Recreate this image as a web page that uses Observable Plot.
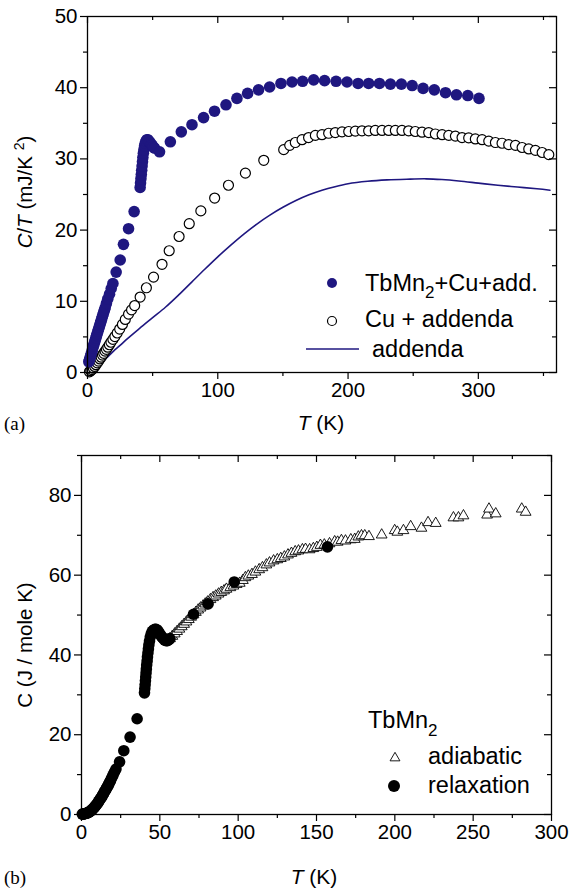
<!DOCTYPE html>
<html><head><meta charset="utf-8">
<script src="https://cdn.jsdelivr.net/npm/d3@7"></script>
<script src="https://cdn.jsdelivr.net/npm/@observablehq/plot@0.6"></script>
<style>
body{margin:0;background:#fff;}
#chart svg{display:block;}
</style></head><body><div id="chart"></div>
<script>
// ---------- Panel (a): C/T (mJ/K^2) vs T (K) ----------
const tbmnCuAdd = [[1,1.5],[1.5,1.8],[2,2.1],[2.5,2.4],[3,2.7],[3.5,3.0],[4,3.4],[4.5,3.7],[5,4.0],[5.5,4.3],[6,4.6],[6.5,4.9],[7,5.2],[7.5,5.5],[8,5.8],[8.5,6.1],[9,6.4],[9.5,6.7],[10,7.0],[10.5,7.3],[11,7.6],[11.5,7.9],[12,8.2],[12.5,8.5],[13,8.8],[13.6,9.1],[14.5,9.7],[15.5,10.3],[16.9,11.0],[18.2,11.8],[19.5,12.5],[22,14.1],[25.1,15.8],[27.6,18.0],[31.5,20.2],[35.8,22.6],[40.4,26.0],[40.7,26.6],[41,27.2],[41.3,27.8],[41.6,28.4],[41.9,29.0],[42.2,29.6],[42.5,30.2],[42.9,30.8],[43.3,31.3],[43.8,31.8],[44.3,32.2],[44.9,32.5],[45.6,32.7],[46.3,32.7],[47.2,32.5],[48,32.3],[48.8,32.1],[49.6,31.9],[50.4,31.7],[51.5,31.5],[55.3,31.0],[63.6,32.4],[72,33.8],[80.2,34.8],[89.1,35.8],[97.5,36.7],[106.3,37.6],[114.7,38.5],[122.9,39.2],[131.3,39.7],[139.8,40.1],[148.5,40.6],[157,40.8],[165.1,40.9],[173.6,41.1],[182,41.0],[190.8,40.9],[199.2,40.8],[207.7,40.6],[215.8,40.6],[224.1,40.6],[232.5,40.5],[240.9,40.5],[249.2,40.3],[257.6,39.9],[266.2,39.7],[274.8,39.3],[283.2,39.0],[291.9,38.9],[300.5,38.5]];
const cuAddenda = [[1.5,0.1],[2.5,0.25],[3.5,0.4],[4.5,0.6],[5.5,0.85],[6.5,1.1],[7.5,1.35],[8.5,1.6],[9.5,1.9],[10.5,2.15],[11.5,2.45],[12.5,2.7],[13.5,3.0],[14.5,3.25],[15.6,3.55],[16.8,3.9],[18,4.25],[19.5,4.65],[21,5.05],[22.8,5.55],[24.7,6.1],[26.8,6.75],[29,7.45],[31.5,8.2],[33.8,8.8],[36.2,9.4],[40.4,10.6],[45.2,11.9],[50.7,13.4],[57.2,15.2],[62.7,17.1],[70.3,19.1],[78.1,20.9],[87,22.7],[97.6,24.5],[108.2,26.3],[121.2,28.0],[135.3,29.8],[150.6,31.3],[155.2,31.9],[159.5,32.3],[164.7,32.7],[169.7,33.0],[174.9,33.3],[180,33.4],[185.1,33.6],[190.2,33.7],[195.4,33.8],[200.5,33.85],[205.6,33.9],[210.7,33.95],[215.8,33.95],[220.9,34.0],[226.1,34.0],[231.2,34.0],[236.3,34.0],[241.4,34.0],[246.5,33.95],[251.6,33.85],[256.8,33.75],[261.9,33.7],[267,33.5],[272.2,33.4],[277.3,33.3],[282.4,33.2],[287.5,33.0],[292.6,32.95],[297.7,32.8],[302.9,32.7],[308,32.5],[313.1,32.3],[318.2,32.2],[323.3,32.0],[328.5,31.9],[333.6,31.6],[338.7,31.4],[343.8,31.2],[349,30.9],[354.1,30.6]];
const addenda = [[3,0],[6,0.5],[10,1.2],[15,2.1],[20,3.0],[25,3.8],[30,4.65],[40,6.2],[50,7.7],[60,9.2],[70,10.9],[80,12.7],[90,14.5],[100,16.25],[110,17.9],[120,19.45],[130,20.85],[140,22.1],[150,23.2],[160,24.15],[170,24.95],[180,25.6],[190,26.1],[200,26.5],[215,26.85],[230,27.05],[245,27.15],[260,27.2],[272,27.1],[285,26.9],[300,26.6],[315,26.3],[330,26.05],[345,25.8],[355,25.6]];
const aXMajor = [0,100,200,300];
const aXMinor = [50,150,250,350];
const aYMajor = [0,10,20,30,40,50];
const aYMinor = [5,15,25,35,45];

// ---------- Panel (b): C (J / mole K) vs T (K) ----------
const relaxation = [[0.5,0.1],[1,0.1],[1.5,0.15],[2,0.2],[2.5,0.25],[3,0.3],[3.5,0.35],[4,0.45],[4.5,0.55],[5,0.65],[5.5,0.8],[6,0.95],[6.5,1.1],[7,1.3],[7.5,1.5],[8,1.7],[8.5,1.95],[9,2.2],[9.5,2.45],[10,2.7],[10.5,3.0],[11,3.3],[11.5,3.6],[12,3.9],[12.5,4.2],[13,4.5],[13.5,4.85],[14,5.2],[14.5,5.55],[15,5.9],[15.5,6.25],[16,6.6],[16.5,6.95],[17,7.3],[17.5,7.7],[18,8.1],[18.5,8.5],[19.2,9.1],[20,9.8],[21,10.6],[22,11.4],[24.3,13.2],[27,16.0],[31,19.4],[35.5,24.0],[40.2,30.5],[40.4,31.5],[40.6,32.5],[40.8,33.5],[41,34.5],[41.2,35.5],[41.4,36.5],[41.6,37.5],[41.9,38.5],[42.1,39.5],[42.4,40.5],[42.7,41.5],[43,42.5],[43.4,43.5],[43.9,44.5],[44.5,45.3],[45.2,45.9],[46,46.2],[46.8,46.4],[47.6,46.4],[48.4,46.2],[49.2,45.8],[50,45.3],[50.8,44.8],[51.6,44.4],[52.4,44.0],[53.2,43.7],[54,43.6],[54.8,43.6],[55.6,43.8],[56.4,44.1],[71.5,50.2],[80.8,52.8],[97.5,58.3],[157,67.1]];
const adiabatic = [[55,43.7],[56.5,44.1],[58,44.7],[59.5,45.3],[61,45.9],[62.5,46.5],[64,47.1],[65.5,47.7],[67,48.3],[68.5,48.9],[70,49.5],[71.5,50.1],[73,50.7],[74.5,51.3],[76,51.8],[77.6,52.3],[79,52.8],[80.5,53.3],[82.3,53.9],[84,54.4],[85.7,54.8],[87.5,55.3],[89.2,55.7],[91,56.1],[92.5,56.5],[95,56.9],[97,57.3],[99,57.7],[101,58.0],[103,58.7],[104.6,59.4],[106.5,59.8],[108.8,60.2],[111,60.8],[113.4,61.4],[115.5,61.9],[118,62.6],[120,63.1],[122.6,63.6],[125,63.9],[127.2,64.2],[129.5,64.6],[131.8,65.1],[134,65.5],[136.4,65.9],[138.5,66.1],[141,66.4],[143,66.5],[145.6,66.4],[148,66.7],[150.2,67.0],[152.5,67.5],[155,67.6],[158.3,67.9],[161.6,68.4],[163.5,68.3],[165.9,68.7],[168.5,68.6],[171.9,68.9],[174.4,69.0],[176.7,69.6],[178.7,69.9],[180.8,69.9],[183.5,69.7],[191.6,70.1],[199.9,71.2],[201.6,70.8],[205.5,71.2],[210.1,72.2],[217,71.8],[221.2,73.2],[226.1,73.0],[237.4,74.4],[240.6,74.4],[243.8,74.9],[258.9,75.1],[260.1,76.6],[264.4,75.4],[281,76.6],[283.5,75.8]];
const bXMajor = [0,50,100,150,200,250,300];
const bXMinor = [25,75,125,175,225,275];
const bYMajor = [0,20,40,60,80];
const bYMinor = [10,30,50,70,90];

const NAVY = "#1f1780";
const FONT = "Liberation Sans, Arial, Helvetica, sans-serif";
const W = 570;

function panel(o) {
  const fh = o.bottom - o.top, fw = o.right - o.left;
  return Plot.plot({
    width: W, height: o.height,
    marginTop: o.top, marginBottom: o.height - o.bottom,
    marginLeft: o.left, marginRight: W - o.right,
    x: {domain: o.xDomain},
    y: {domain: o.yDomain},
    style: {fontFamily: FONT, fontSize: "20.5px", color: "#000", background: "#fff", overflow: "visible"},
    marks: [
      ...o.data,
      Plot.axisX({ticks: o.xMajor, tickSize: 7, tickPadding: 3, tickFormat: d => String(d), label: null, strokeWidth: 1.2}),
      Plot.axisX({ticks: o.xMinor, tickSize: 4, tickFormat: () => "", label: null, strokeWidth: 1.2}),
      Plot.axisY({ticks: o.yMajor, tickSize: 7, tickPadding: 3, tickFormat: d => String(d), label: null, strokeWidth: 1.2}),
      Plot.axisY({ticks: o.yMinor, tickSize: 4, tickFormat: () => "", label: null, strokeWidth: 1.2}),
      Plot.ruleX(o.xMajor, {x: d => d, insetBottom: fh - 7, stroke: "#000", strokeWidth: 1.2}),
      Plot.ruleX(o.xMinor, {x: d => d, insetBottom: fh - 4, stroke: "#000", strokeWidth: 1.2}),
      Plot.ruleY(o.yMajor, {y: d => d, insetLeft: fw - 7, stroke: "#000", strokeWidth: 1.2}),
      Plot.ruleY(o.yMinor, {y: d => d, insetLeft: fw - 4, stroke: "#000", strokeWidth: 1.2}),
      Plot.frame({stroke: "#000", strokeWidth: 1.3})
    ]
  });
}

const pa = {height: 440, top: 16, bottom: 372, left: 87, right: 556};
const svgA = panel({
  ...pa, xDomain: [0, 360], yDomain: [0, 50],
  xMajor: aXMajor, xMinor: aXMinor, yMajor: aYMajor, yMinor: aYMinor,
  data: [
    Plot.line(addenda, {x: d => d[0], y: d => d[1], stroke: NAVY, strokeWidth: 1.6, curve: "catmull-rom"}),
    Plot.dot(cuAddenda, {x: d => d[0], y: d => d[1], r: 5, fill: "#fff", stroke: "#000", strokeWidth: 1.2}),
    Plot.dot(tbmnCuAdd, {x: d => d[0], y: d => d[1], r: 5.8, fill: NAVY, stroke: "none"})
  ]
});

const pb = {height: 450, top: 15, bottom: 374, left: 81, right: 551};
const svgB = panel({
  ...pb, xDomain: [0, 300], yDomain: [0, 90],
  xMajor: bXMajor, xMinor: bXMinor, yMajor: bYMajor, yMinor: bYMinor,
  data: [
    Plot.dot(adiabatic, {x: d => d[0], y: d => d[1], symbol: "triangle", r: 4, fill: "#fff", stroke: "#000", strokeWidth: 0.9}),
    Plot.dot(relaxation, {x: d => d[0], y: d => d[1], r: 5.8, fill: "#000", stroke: "none"})
  ]
});

document.getElementById("chart").append(svgA, svgB);

// ---------- titles, panel letters, legends (text) ----------
function addText(svg, x, y, parts, opts = {}) {
  const t = d3.select(svg).append("text")
    .attr("x", x).attr("y", y)
    .attr("font-family", opts.family || FONT)
    .attr("font-size", opts.size || 20)
    .attr("fill", "#000")
    .attr("text-anchor", opts.anchor || "start");
  if (opts.rotate) t.attr("transform", `rotate(-90 ${x} ${y})`);
  for (const p of parts) {
    const s = t.append("tspan").text(p.t);
    if (p.italic) s.attr("font-style", "italic");
    if (p.size) s.attr("font-size", p.size);
    if (p.dy) s.attr("dy", p.dy);
  }
  return t;
}

// Panel (a)
addText(svgA, 32, 192, [{t: "C", italic: true}, {t: "/"}, {t: "T", italic: true}, {t: " (mJ/K "}, {t: "2", size: 14, dy: -8}, {t: ")", dy: 8}], {anchor: "middle", rotate: true, size: 20.5});
addText(svgA, 321, 430, [{t: "T", italic: true}, {t: " (K)"}], {anchor: "middle", size: 21});
addText(svgA, 4, 430, [{t: "(a)"}], {family: "Liberation Serif, Times New Roman, serif", size: 19});

const ga = d3.select(svgA).append("g");
ga.append("circle").attr("cx", 332).attr("cy", 283).attr("r", 5).attr("fill", NAVY);
addText(svgA, 365, 291, [{t: "TbMn"}, {t: "2", size: 17, dy: 7}, {t: "+Cu+add.", dy: -7}], {size: 23.5});
ga.append("circle").attr("cx", 332).attr("cy", 321).attr("r", 4.5).attr("fill", "#fff").attr("stroke", "#000").attr("stroke-width", 1.2);
addText(svgA, 365, 327, [{t: "Cu + addenda"}], {size: 23.5});
ga.append("line").attr("x1", 306).attr("x2", 359).attr("y1", 349).attr("y2", 349).attr("stroke", NAVY).attr("stroke-width", 1.5);
addText(svgA, 372, 357, [{t: "addenda"}], {size: 23.5});

// Panel (b)
addText(svgB, 32, 205, [{t: "C"}, {t: " (J / mole K)"}], {anchor: "middle", rotate: true, size: 20.5});
addText(svgB, 314, 444, [{t: "T", italic: true}, {t: " (K)"}], {anchor: "middle", size: 21});
addText(svgB, 4, 444, [{t: "(b)"}], {family: "Liberation Serif, Times New Roman, serif", size: 19});

const gb = d3.select(svgB).append("g");
addText(svgB, 368, 288, [{t: "TbMn"}, {t: "2", size: 17, dy: 8}], {size: 23.5});
gb.append("path").attr("d", d3.symbol(d3.symbolTriangle, 42)()).attr("transform", "translate(395,318)")
  .attr("fill", "#fff").attr("stroke", "#000").attr("stroke-width", 0.9);
addText(svgB, 428, 324, [{t: "adiabatic"}], {size: 23.5});
gb.append("circle").attr("cx", 394).attr("cy", 346).attr("r", 6).attr("fill", "#000");
addText(svgB, 428, 353, [{t: "relaxation"}], {size: 23.5});
</script>
</body></html>
